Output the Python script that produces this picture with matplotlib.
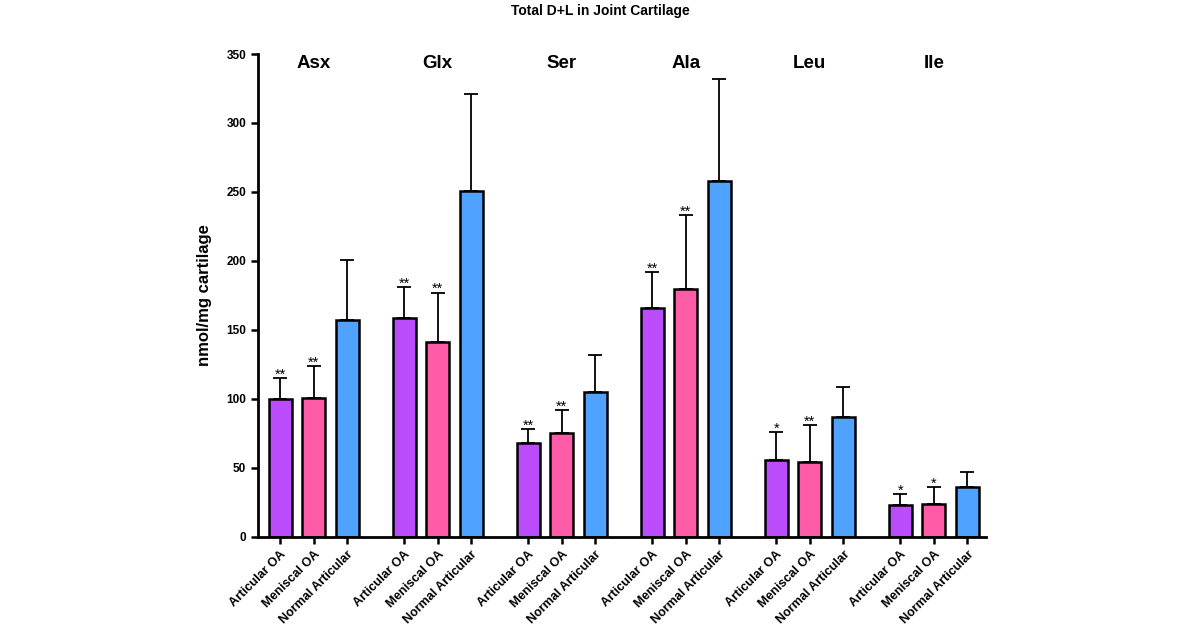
import numpy as np
import matplotlib
matplotlib.use("Agg")
import matplotlib.pyplot as plt

plt.rcParams['font.family'] = ['Liberation Sans', 'DejaVu Sans']

amino_acids = ["Asx", "Glx", "Ser", "Ala", "Leu", "Ile"]
groups = ["Articular OA", "Meniscal OA", "Normal Articular"]
colors = ["#BB4CFB", "#FF5CA8", "#4FA3FF"]

# mean values per group and amino acid
articular_oa = [100, 159, 68, 166, 56, 23]
meniscal_oa = [101, 141, 75, 180, 54, 24]
normal_articular = [157, 251, 105, 258, 87, 36]
# upper error (SD)
articular_err = [15, 22, 10, 26, 20, 8]
meniscal_err = [23, 36, 17, 53, 27, 12]
normal_err = [44, 70, 27, 74, 22, 11]
# significance markers
articular_sig = ["**", "**", "**", "**", "*", "*"]
meniscal_sig = ["**", "**", "**", "**", "**", "*"]

means = [articular_oa, meniscal_oa, normal_articular]
errs = [articular_err, meniscal_err, normal_err]
sigs = [articular_sig, meniscal_sig, [""] * 6]

fig = plt.figure(figsize=(12, 6.28), dpi=100)
ax = fig.add_axes([0.215, 0.145, 0.607, 0.769])

group_gap = 3.7
width = 0.68
xticks, xlabels = [], []
for i, aa in enumerate(amino_acids):
    for j in range(3):
        x = i * group_gap + j
        m = means[j][i]
        e = errs[j][i]
        ax.bar(x, m, width=width, color=colors[j], edgecolor="black",
               linewidth=1.8, zorder=2)
        ax.errorbar(x, m, yerr=[[0], [e]], fmt="none", ecolor="black",
                    elinewidth=1.3, capsize=5, capthick=1.3, zorder=1)
        if sigs[j][i]:
            ax.text(x, m + e - 2.5, sigs[j][i], ha="center", va="bottom",
                    fontsize=10.5)
        xticks.append(x)
        xlabels.append(groups[j])
    ax.text(i * group_gap + 1, 343, aa, ha="center", va="center",
            fontsize=13.5, fontweight="bold")

ax.set_xlim(-0.66, 5 * group_gap + 2.57)
ax.set_ylim(0, 350)
ax.set_yticks(np.arange(0, 351, 50))
ax.set_xticks(xticks)
ax.set_xticklabels(xlabels, rotation=45, ha="right", rotation_mode="anchor",
                   fontsize=9, fontweight="bold")
for lab in ax.get_yticklabels():
    lab.set_fontweight("bold")
    lab.set_fontsize(8.5)
ax.tick_params(axis="both", width=1.8, length=5)
for s in ["top", "right"]:
    ax.spines[s].set_visible(False)
for s in ["left", "bottom"]:
    ax.spines[s].set_linewidth(2)
ax.set_ylabel("nmol/mg cartilage", fontsize=12, fontweight="bold", labelpad=10)

fig.text(0.5, 0.982, "Total D+L in Joint Cartilage", ha="center", va="center",
         fontsize=10, fontweight="bold")

fig.savefig("out.png", dpi=100)
